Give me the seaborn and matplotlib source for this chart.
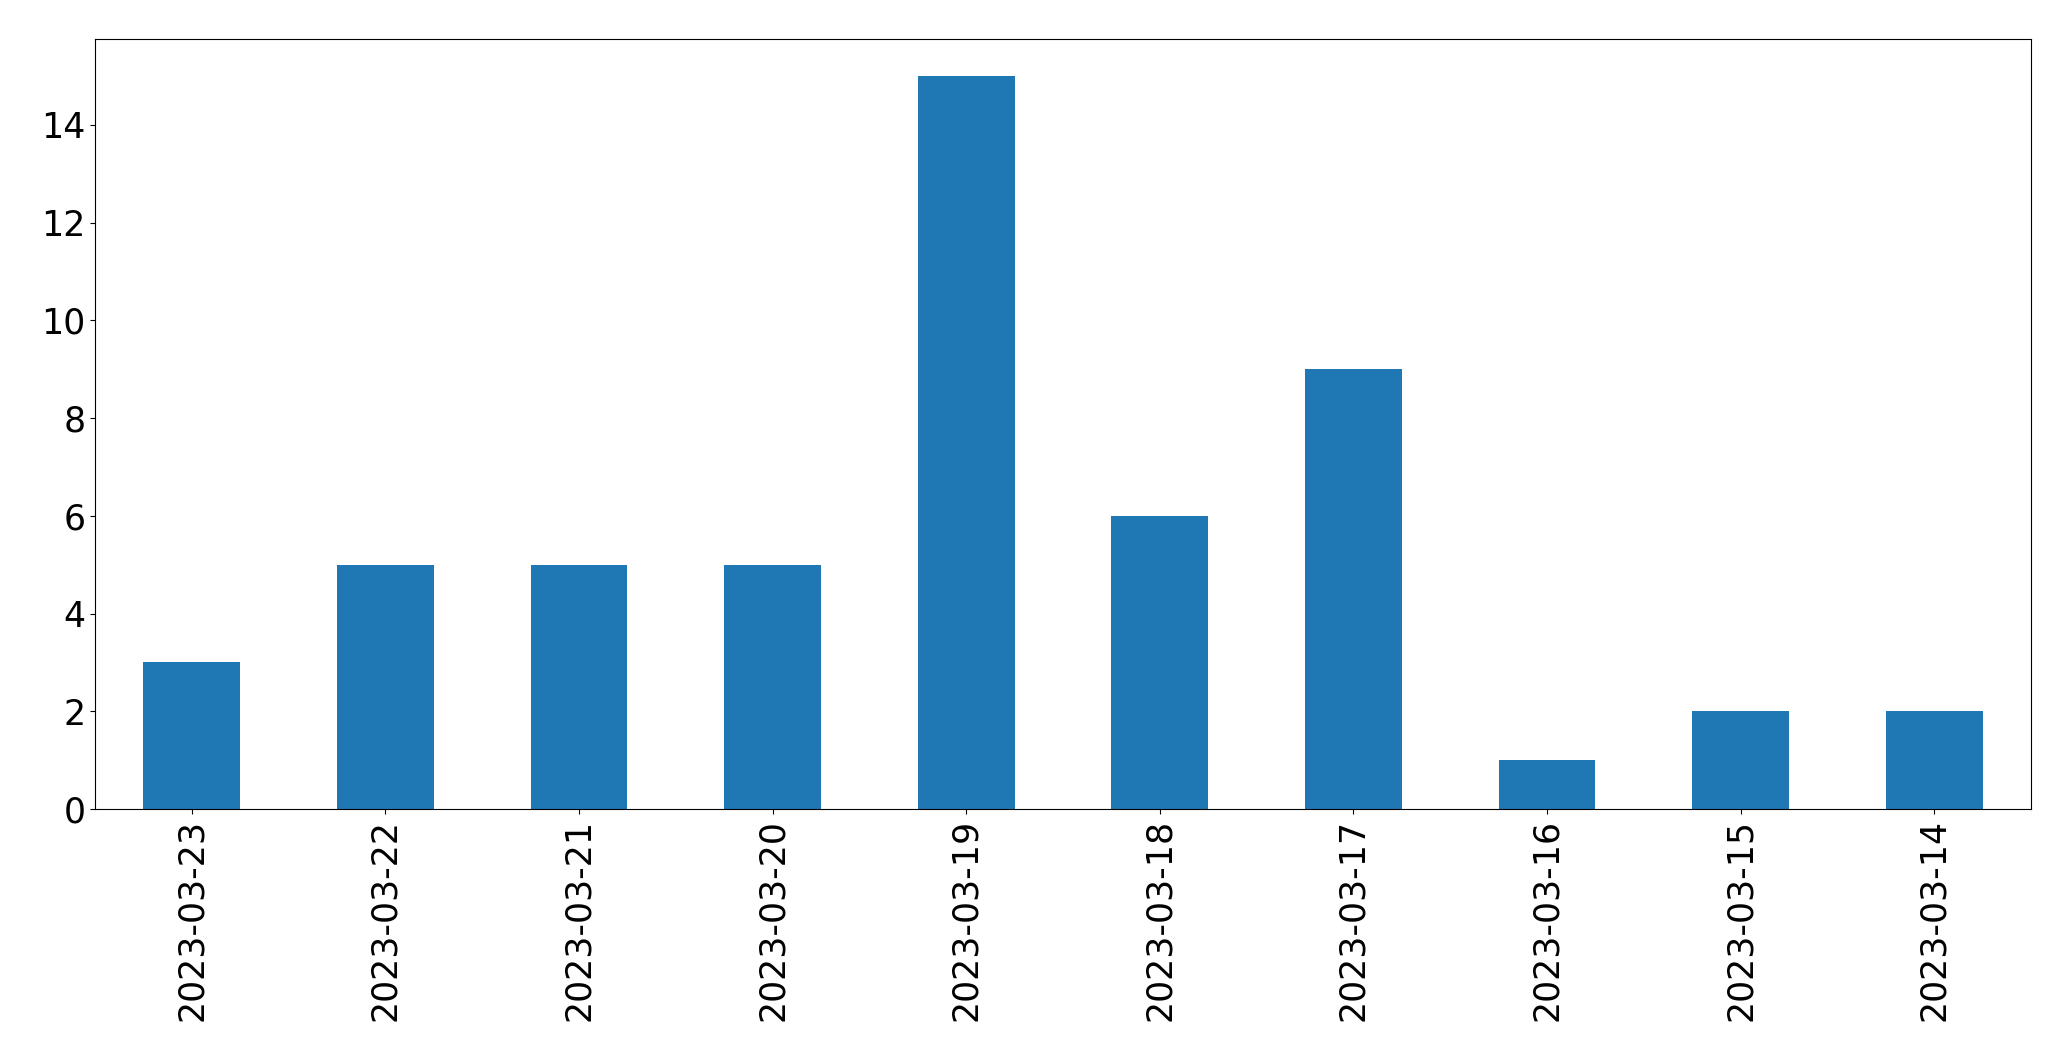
import matplotlib
matplotlib.use('Agg')
import matplotlib.pyplot as plt
import seaborn as sns
import pandas as pd

dates = ['2023-03-23', '2023-03-22', '2023-03-21', '2023-03-20', '2023-03-19',
         '2023-03-18', '2023-03-17', '2023-03-16', '2023-03-15', '2023-03-14']
counts = [3, 5, 5, 5, 15, 6, 9, 1, 2, 2]

df = pd.DataFrame({'date': dates, 'count': counts})

plt.rcParams['font.family'] = ['DejaVu Sans']
fig, ax = plt.subplots(figsize=(20.71, 10.61), dpi=100)
fig.subplots_adjust(left=0.0459, right=0.9807, top=0.963, bottom=0.2375)

sns.barplot(data=df, x='date', y='count', color='#1f77b4', saturation=1,
            width=0.5, ax=ax)
ax.set_xlim(-0.5, len(dates) - 0.5)
ax.set_xlabel('')
ax.set_ylabel('')
ax.tick_params(axis='both', labelsize=25)
ax.tick_params(axis='x', labelrotation=90)

fig.savefig('out.png', dpi=100)
